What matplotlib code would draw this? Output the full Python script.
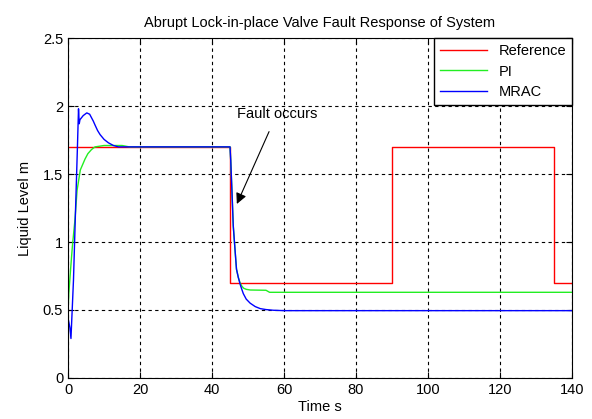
import matplotlib.pyplot as plt

# Reference level (step changes)
ref_t = [0, 45, 45, 90, 90, 135, 135, 140]
ref_y = [1.7, 1.7, 0.7, 0.7, 1.7, 1.7, 0.7, 0.7]

# PI controller response
pi_t = [0, 0.2, 0.7, 1.2, 1.9, 2.5, 3.4, 4.7, 5.5, 6.5, 7.5, 10, 15, 17, 45,
        45.2, 45.5, 45.9, 46.4, 46.8, 47.3, 47.8, 48.3, 48.8, 49.5, 50.6, 55, 56, 140]
pi_y = [0.50, 0.62, 0.80, 0.97, 1.16, 1.38, 1.53, 1.61, 1.65, 1.68, 1.70, 1.71, 1.71, 1.70, 1.70,
        1.60, 1.40, 1.12, 0.94, 0.80, 0.74, 0.70, 0.675, 0.66, 0.652, 0.647, 0.645, 0.63, 0.63]

# MRAC controller response
mrac_t = [0, 0.5, 0.8, 1.5, 2.1, 2.6, 2.9, 3.1, 3.3, 4.2, 5.2, 6.0, 7.0, 7.5, 8.2, 8.9, 10,
          11.2, 12.6, 14, 45, 45.2, 45.5, 45.9, 46.4, 46.8, 47.3, 47.8, 48.3, 48.7, 49.5,
          50.6, 52, 53.4, 55, 57, 60, 140]
mrac_y = [0.44, 0.37, 0.29, 0.72, 1.26, 1.70, 1.98, 1.87, 1.90, 1.93, 1.95, 1.94, 1.89, 1.86,
          1.82, 1.79, 1.755, 1.73, 1.71, 1.70, 1.70, 1.60, 1.40, 1.12, 0.94, 0.80, 0.74,
          0.69, 0.65, 0.62, 0.58, 0.55, 0.525, 0.51, 0.503, 0.498, 0.495, 0.495]

plt.rcParams['font.family'] = ['Liberation Sans', 'DejaVu Sans']
fs = 10.5

fig = plt.figure(figsize=(5.92, 4.19), dpi=100)
ax = fig.add_axes([0.115, 0.098, 0.851, 0.811])

ax.plot(ref_t, ref_y, color='#ff0000', lw=1.0, label='Reference')
ax.plot(pi_t, pi_y, color='#22ee22', lw=1.0, label='PI')
ax.plot(mrac_t, mrac_y, color='#0000ff', lw=1.0, label='MRAC')

ax.set_xlim(0, 140)
ax.set_ylim(0, 2.5)
ax.set_xticks(range(0, 141, 20))
ax.set_yticks([0, 0.5, 1, 1.5, 2, 2.5])
ax.set_yticklabels(['0', '0.5', '1', '1.5', '2', '2.5'])
ax.tick_params(direction='in', top=True, right=True, labelsize=fs, length=4)
ax.grid(True, color='black', linestyle=(0, (3, 3)), linewidth=0.8)

ax.set_title('Abrupt Lock-in-place Valve Fault Response of System', fontsize=fs, pad=8)
ax.set_xlabel('Time s', fontsize=fs, labelpad=2)
ax.set_ylabel('Liquid Level m', fontsize=fs, labelpad=8)

ax.annotate('Fault occurs', xy=(46.9, 1.28), xytext=(58, 1.94),
            ha='center', va='center', fontsize=fs,
            arrowprops=dict(arrowstyle='-|>', color='black', lw=0.8, mutation_scale=16,
                            shrinkA=6, shrinkB=0))

leg = ax.legend(loc='upper right', fontsize=fs, borderaxespad=0, fancybox=False,
                edgecolor='black', framealpha=1, handlelength=3.2, labelspacing=0.45)
leg.get_frame().set_linewidth(1.0)

fig.savefig('out.png', dpi=100)
